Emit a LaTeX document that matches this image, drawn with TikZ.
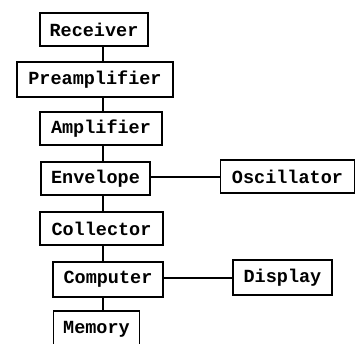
\documentclass[tikz,border=0pt]{standalone}
\usepackage{fontspec}
\setmonofont{Liberation Mono}
\begin{document}
\begin{tikzpicture}[x=1pt,y=-1pt,
  blk/.style={draw, line width=1.8pt, inner sep=0pt, minimum height=33pt,
    font=\fontsize{18.5}{20}\selectfont\ttfamily\bfseries},
  con/.style={line width=1.6pt}]
\useasboundingbox (0,0) rectangle (356,343);
\node[blk, minimum width=108pt] (rec) at (94,29.5) {Receiver};
\node[blk, minimum width=156pt, minimum height=35pt] (pre) at (95,79.5) {Preamplifier};
\node[blk, minimum width=122pt] (amp) at (101,128.5) {Amplifier};
\node[blk, minimum width=109pt] (env) at (95.5,178.5) {Envelope};
\node[blk, minimum width=123pt] (col) at (101.5,228.5) {Collector};
\node[blk, minimum width=110pt, minimum height=35pt] (cmp) at (108,279.5) {Computer};
\node[blk, minimum width=86pt, minimum height=36pt] (mem) at (96.5,329) {Memory};
\node[blk, minimum width=134pt] (osc) at (287.5,176.5) {Oscillator};
\node[blk, minimum width=99pt, minimum height=35pt] (dis) at (282.5,277.5) {Display};
\coordinate (spine) at (103,0);
\draw[con] (rec.south -| spine) -- (pre.north -| spine);
\draw[con] (pre.south -| spine) -- (amp.north -| spine);
\draw[con] (amp.south -| spine) -- (env.north -| spine);
\draw[con] (env.south -| spine) -- (col.north -| spine);
\draw[con] (col.south -| spine) -- (cmp.north -| spine);
\draw[con] (cmp.south -| spine) -- (mem.north -| spine);
\draw[con] (env.east |- 0,177) -- (osc.west |- 0,177);
\draw[con] (cmp.east |- 0,278) -- (dis.west |- 0,278);
\end{tikzpicture}
\end{document}
